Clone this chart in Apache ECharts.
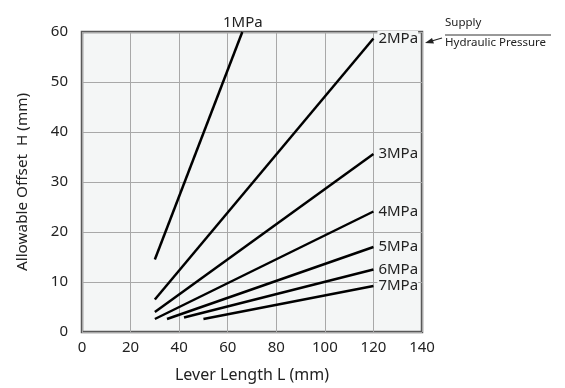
<!DOCTYPE html>
<html><head><meta charset="utf-8">
<script src="https://cdn.jsdelivr.net/npm/echarts@6/dist/echarts.min.js"></script>
<style>html,body{margin:0;padding:0;background:#fff}#c{width:565px;height:388px}</style>
</head><body><div id="c"></div>
<script>
const pressures = ['1MPa','2MPa','3MPa','4MPa','5MPa','6MPa','7MPa'];
const startL = [30, 30, 30, 30, 35, 42, 50];
const startH = [14.5, 6.5, 4.0, 2.6, 2.6, 2.9, 2.6];
const endL = [66, 120, 120, 120, 120, 120, 120];
const endH = [60, 58.7, 35.6, 24.1, 17.0, 12.5, 9.2];
const xTicks = [0, 20, 40, 60, 80, 100, 120, 140];
const yTicks = [0, 10, 20, 30, 40, 50, 60];

const FONT = 'Noto Sans';
const chart = echarts.init(document.getElementById('c'), null, {renderer: 'canvas'});
const series = pressures.map((p, i) => ({
  type: 'line',
  name: p,
  data: [[startL[i], startH[i]], [endL[i], endH[i]]],
  symbol: 'none',
  clip: false,
  lineStyle: {color: '#000', width: 2.5},
  endLabel: {
    show: true,
    formatter: p,
    distance: 4,
    align: i === 0 ? 'center' : 'left',
    verticalAlign: i === 0 ? 'bottom' : 'middle',
    offset: i === 0 ? [-4, -2] : [0, 0],
    fontFamily: FONT, fontSize: 15, color: '#222',
    backgroundColor: i === 0 ? 'transparent' : '#f4f6f6',
    padding: [0, 0, 0, 1]
  },
  z: 3
}));

chart.setOption({
  animation: false,
  grid: {left: 82, right: 143, top: 32, bottom: 54, show: true,
         backgroundColor: '#f4f6f6', borderColor: '#595959', borderWidth: 2.5},
  xAxis: {
    type: 'value', min: xTicks[0], max: xTicks[xTicks.length - 1], interval: 20,
    name: 'Lever Length L (mm)', nameLocation: 'middle', nameGap: 35,
    nameTextStyle: {fontFamily: FONT, fontSize: 16, color: '#222'},
    axisLine: {show: false}, axisTick: {show: false},
    axisLabel: {fontFamily: FONT, fontSize: 15, color: '#222', margin: 8},
    splitLine: {show: true, lineStyle: {color: '#a8a8a8', width: 1}}
  },
  yAxis: {
    type: 'value', min: yTicks[0], max: yTicks[yTicks.length - 1], interval: 10,
    name: 'Allowable Offset  H (mm)', nameLocation: 'middle', nameGap: 52,
    nameTextStyle: {fontFamily: FONT, fontSize: 15.3, color: '#222'},
    axisLine: {show: false}, axisTick: {show: false},
    axisLabel: {fontFamily: FONT, fontSize: 15, color: '#222', margin: 14},
    splitLine: {show: true, lineStyle: {color: '#a8a8a8', width: 1}}
  },
  series: series,
  graphic: [
    {type: 'text', left: 445, top: 17, style: {text: 'Supply', fontFamily: FONT, fontSize: 11.5, fill: '#222'}},
    {type: 'line', shape: {x1: 445, y1: 35, x2: 551, y2: 35}, style: {stroke: '#333', lineWidth: 1}},
    {type: 'text', left: 445, top: 37, style: {text: 'Hydraulic Pressure', fontFamily: FONT, fontSize: 11.5, fill: '#222'}},
    {type: 'line', shape: {x1: 442, y1: 38, x2: 430, y2: 41.5}, style: {stroke: '#222', lineWidth: 1.2}},
    {type: 'polygon', shape: {points: [[425, 43], [432, 38], [434, 43.5]]}, style: {fill: '#222'}}
  ]
});
</script></body></html>
